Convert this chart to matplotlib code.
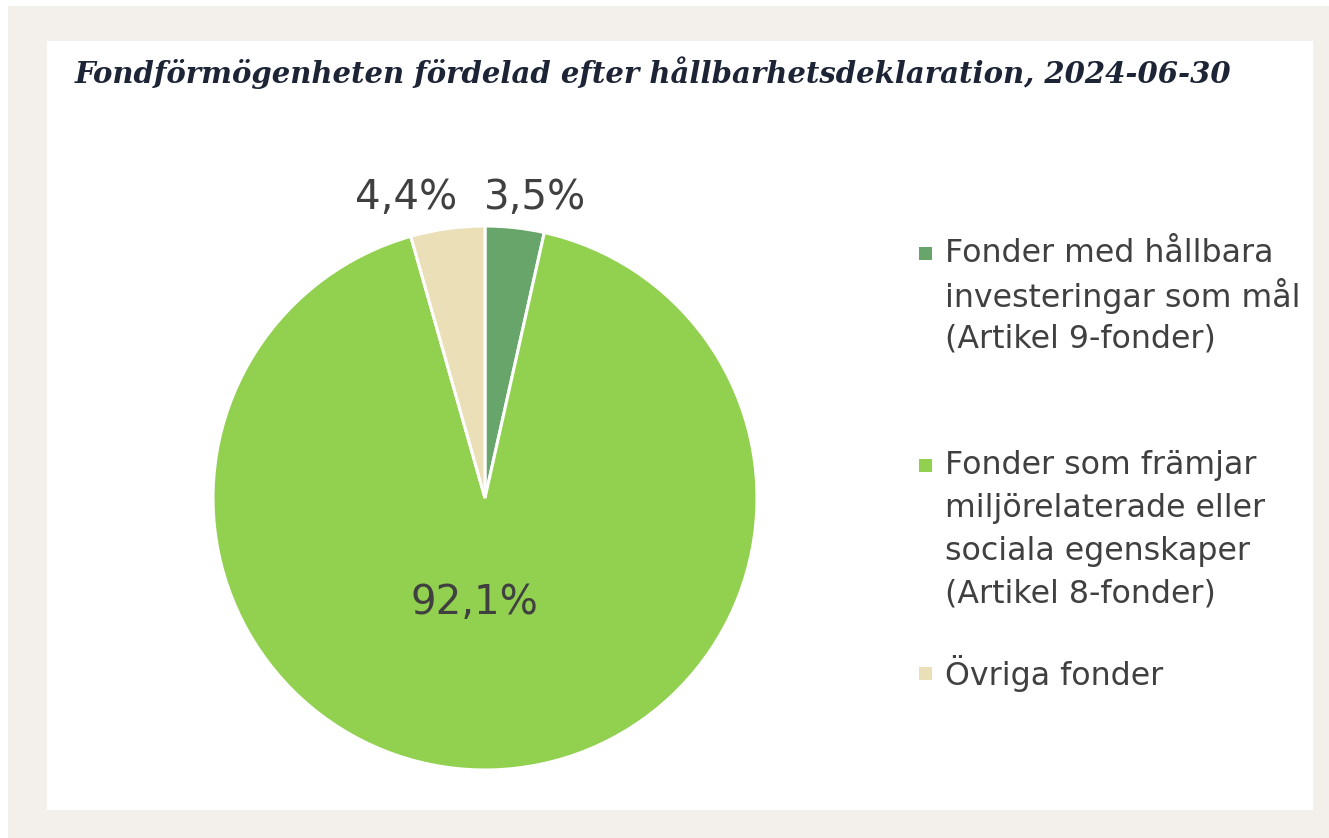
"""
Pie chart: fund assets by sustainability disclosure (SFDR article), 2024-06-30.
"""
import matplotlib
matplotlib.use("Agg")
import matplotlib.pyplot as plt
from matplotlib.patches import Rectangle

TITLE = "Fondförmögenheten fördelad efter hållbarhetsdeklaration, 2024-06-30"
CATEGORIES = [
    "Fonder med hållbara\ninvesteringar som mål\n(Artikel 9-fonder)",
    "Fonder som främjar\nmiljörelaterade eller\nsociala egenskaper\n(Artikel 8-fonder)",
    "Övriga fonder",
]
SHARES = [3.5, 92.1, 4.4]
COLORS = ["#67a56b", "#92d050", "#ebdfb8"]

# layout (pixels in a 1329x838 canvas)
W, H = 1329, 838
CX, CY, R = 485, 498, 272
# label anchors in pie units (radius = 1), text baseline; same order as SHARES
LABEL_POS = [(0.184, 1.063), (-0.04, -0.427), (-0.29, 1.063)]
LEGEND_Y = [253, 465, 673]
LINE_STEP = 43
TEXT_COL = "#404040"

fig = plt.figure(figsize=(W / 100, H / 100), dpi=100)
fig.patch.set_facecolor("white")

bg = fig.add_axes([0, 0, 1, 1])
bg.set_xlim(0, W)
bg.set_ylim(H, 0)
bg.axis("off")
bg.add_patch(Rectangle((8, 6), W - 8, H - 6, color="#f3f0ec", lw=0))
bg.add_patch(Rectangle((47, 41), 1313 - 47, 810 - 41, color="white", lw=0))
bg.text(75, 83, TITLE, family="DejaVu Serif", style="italic", weight="bold",
        fontsize=21, color="#1c2436", va="baseline", ha="left")

# legend, drawn by hand to keep Excel-like spacing
for lab, col, y0 in zip(CATEGORIES, COLORS, LEGEND_Y):
    bg.add_patch(Rectangle((919, y0 - 6.5), 13, 13, color=col, lw=0))
    for k, line in enumerate(lab.split("\n")):
        bg.text(945, y0 + k * LINE_STEP, line, fontsize=22.8, color=TEXT_COL,
                va="center", ha="left", family="DejaVu Sans")

ax = fig.add_axes([(CX - R) / W, (H - CY - R) / H, 2 * R / W, 2 * R / H])
wedges, _ = ax.pie(SHARES, colors=COLORS, startangle=90, counterclock=False,
                   wedgeprops=dict(edgecolor="white", linewidth=2.2))
for w in wedges:
    w.set_clip_on(False)
ax.set_xlim(-1, 1)
ax.set_ylim(-1, 1)
ax.set_aspect("equal")
ax.axis("off")

for v, (x, y) in zip(SHARES, LABEL_POS):
    ax.text(x, y, f"{v:.1f}".replace(".", ",") + "%", fontsize=29,
            color=TEXT_COL, ha="center", va="baseline", family="DejaVu Sans")

fig.savefig("out.png", dpi=100)
